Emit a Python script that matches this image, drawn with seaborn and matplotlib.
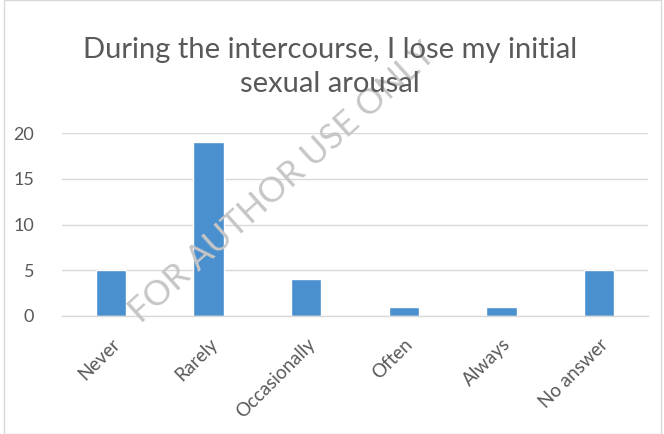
import matplotlib
matplotlib.use("Agg")
import matplotlib.pyplot as plt
import seaborn as sns
import pandas as pd
from matplotlib.patches import Rectangle

categories = ["Never", "Rarely", "Occasionally", "Often", "Always", "No answer"]
counts = [5, 19, 4, 1, 1, 5]
yticks = [0, 5, 10, 15, 20]
title = "During the intercourse, I lose my initial\nsexual arousal"
watermark = "FOR AUTHOR USE ONLY"

sns.set_theme(style="white")
plt.rcParams["font.family"] = ["Lato", "DejaVu Sans"]

text_color = "#595959"
bar_color = "#4a90cf"

df = pd.DataFrame({"category": categories, "count": counts})

fig = plt.figure(figsize=(6.64, 4.34), dpi=100)
ax = fig.add_axes([62 / 664, 1 - 316 / 434, 586 / 664, 183 / 434])

sns.barplot(data=df, x="category", y="count", color=bar_color,
            width=0.31, saturation=1, ax=ax, order=categories)

ax.set_ylim(0, 20)
ax.set_yticks(yticks)
ax.yaxis.grid(True, color="#d9d9d9", linewidth=1)
ax.set_axisbelow(True)
for side in ["top", "right", "left"]:
    ax.spines[side].set_visible(False)
ax.spines["bottom"].set_color("#d9d9d9")
ax.spines["bottom"].set_linewidth(1)
ax.set_xlabel("")
ax.set_ylabel("")
ax.tick_params(axis="y", length=0, labelsize=13, labelcolor=text_color, pad=20)
ax.tick_params(axis="x", length=0, labelsize=13.5, labelcolor=text_color, pad=14)
for lbl in ax.get_xticklabels():
    lbl.set_rotation(45)
    lbl.set_ha("right")
    lbl.set_va("top")
    lbl.set_rotation_mode("anchor")

fig.text(0.497, 1 - 67 / 434, title, ha="center", va="center",
         fontsize=21, color=text_color, linespacing=1.38)

fig.text(283 / 664, 1 - 183 / 434, watermark, ha="center", va="center",
         rotation=42, fontsize=25, color="#c6c6c6", zorder=0)

# chart frame
fig.patches.append(Rectangle((4 / 664, 0), 657 / 664, 1, transform=fig.transFigure,
                             fill=False, edgecolor="#d9d9d9", linewidth=1))

fig.savefig("out.png", dpi=100, facecolor="white")
